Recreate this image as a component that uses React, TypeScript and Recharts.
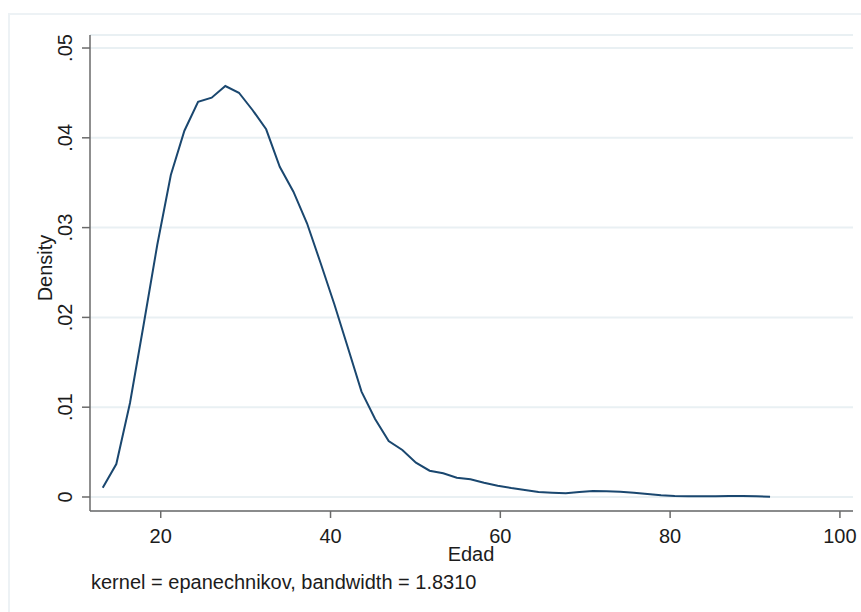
import React from "react";
import { LineChart, Line, XAxis, YAxis, CartesianGrid } from "recharts";

// Kernel density estimate of Edad (50 evaluation points)
const ages = [
  13.17, 14.77, 16.38, 17.98, 19.59, 21.19, 22.79, 24.4, 26.0, 27.61,
  29.21, 30.81, 32.42, 34.02, 35.63, 37.23, 38.83, 40.44, 42.04, 43.65,
  45.25, 46.85, 48.46, 50.06, 51.67, 53.27, 54.87, 56.48, 58.08, 59.69,
  61.29, 62.89, 64.5, 66.1, 67.71, 69.31, 70.91, 72.52, 74.12, 75.73,
  77.33, 78.93, 80.54, 82.14, 83.75, 85.35, 86.95, 88.56, 90.16, 91.77,
];

const density = [
  0.00104, 0.00367, 0.01047, 0.01915, 0.02806, 0.03586, 0.04079, 0.04402, 0.04447, 0.04577,
  0.04502, 0.0431, 0.04095, 0.03678, 0.034, 0.03048, 0.02606, 0.02149, 0.01665, 0.01173,
  0.00869, 0.00624, 0.00523, 0.00382, 0.00293, 0.00264, 0.00215, 0.00197, 0.00159, 0.00126,
  0.001, 0.00078, 0.00056, 0.00048, 0.00041, 0.00056, 0.00067, 0.00063, 0.00059, 0.00048,
  0.00033, 0.00019, 0.00011, 0.00009, 0.00009, 0.00009, 0.00011, 0.00011, 0.00008, 0.00003,
];

const xTicks = [20, 40, 60, 80, 100];
const yTicks = [0, 0.01, 0.02, 0.03, 0.04, 0.05];
const yTickLabels = ["0", ".01", ".02", ".03", ".04", ".05"];

const chartData = ages.map((edad, i) => ({ edad, density: density[i] }));

const FONT = '"Liberation Sans", Arial, sans-serif';
const INK = "#1c1c1c";
const AXIS = "#6a6a6a";

function XTick({ x, y, payload }: any) {
  return (
    <text x={x} y={y + 23} textAnchor="middle" fontSize={20} fill={INK} fontFamily={FONT}>
      {payload.value}
    </text>
  );
}

function YTick({ x, y, payload }: any) {
  const label = yTickLabels[yTicks.indexOf(payload.value)];
  const tx = x - 8;
  return (
    <text
      x={tx}
      y={y}
      transform={`rotate(-90 ${tx} ${y})`}
      textAnchor="middle"
      fontSize={20}
      fill={INK}
      fontFamily={FONT}
    >
      {label}
    </text>
  );
}

export default function App() {
  return (
    <div
      style={{
        position: "fixed",
        left: 0,
        top: 0,
        width: 861,
        height: 612,
        background: "#fff",
        overflow: "hidden",
      }}
    >
      {/* faint outer graph frame */}
      <div
        style={{
          position: "absolute",
          left: 8,
          top: 13,
          width: 880,
          height: 640,
          border: "2px solid #edf2f5",
          boxSizing: "border-box",
        }}
      />
      <div style={{ position: "absolute", left: 0, top: 0 }}>
        <LineChart width={861} height={612} data={chartData} margin={{ top: 35, right: 8, left: 30, bottom: 61 }}>
          <CartesianGrid horizontal vertical={false} stroke="#e9f0f3" strokeWidth={2} />
          <XAxis
            type="number"
            dataKey="edad"
            domain={[11.67, 101.54]}
            ticks={xTicks}
            interval={0}
            allowDataOverflow
            height={40}
            tickSize={7}
            tick={<XTick />}
            axisLine={{ stroke: AXIS, strokeWidth: 1.5 }}
            tickLine={{ stroke: AXIS, strokeWidth: 1.5 }}
          />
          <YAxis
            type="number"
            domain={[-0.00156, 0.05145]}
            ticks={yTicks}
            interval={0}
            allowDataOverflow
            width={60}
            tickSize={8}
            tick={<YTick />}
            axisLine={{ stroke: AXIS, strokeWidth: 1.5 }}
            tickLine={{ stroke: AXIS, strokeWidth: 1.5 }}
          />
          <Line
            type="linear"
            dataKey="density"
            stroke="#1a476f"
            strokeWidth={2}
            dot={false}
            isAnimationActive={false}
          />
        </LineChart>
      </div>
      <svg width={861} height={612} style={{ position: "absolute", left: 0, top: 0, pointerEvents: "none" }}>
        <text
          x={52}
          y={268}
          transform="rotate(-90 52 268)"
          textAnchor="middle"
          fontSize={20}
          fill={INK}
          fontFamily={FONT}
        >
          Density
        </text>
        <text x={471} y={561} textAnchor="middle" fontSize={20} fill={INK} fontFamily={FONT}>
          Edad
        </text>
        <text x={91} y={589} fontSize={20} fill={INK} fontFamily={FONT}>
          kernel = epanechnikov, bandwidth = 1.8310
        </text>
      </svg>
    </div>
  );
}
